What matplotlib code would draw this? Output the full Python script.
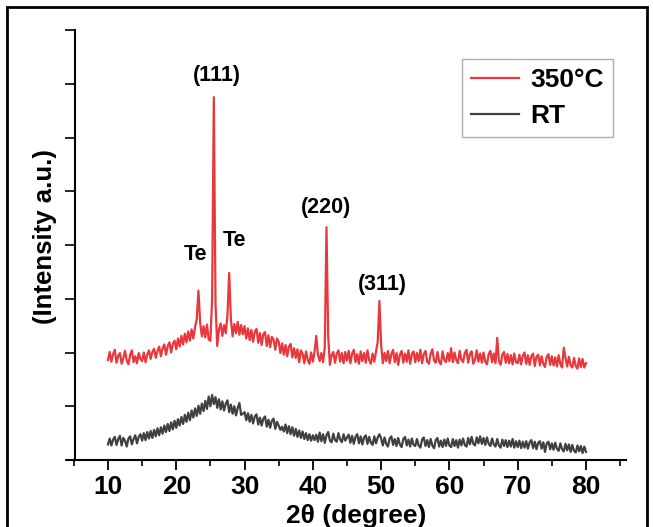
import numpy as np
import matplotlib
matplotlib.use('Agg')
import matplotlib.pyplot as plt
from matplotlib.ticker import MultipleLocator, NullFormatter
from matplotlib.patches import Rectangle

plt.rcParams['font.family'] = ['Liberation Sans', 'DejaVu Sans']
plt.rcParams['font.weight'] = 'bold'

# 2theta grid, 10..80 step 0.25
two_theta = np.arange(10, 80.001, 0.25)

# 350 C sample, intensity (a.u. x100)
t350 = [
    186, 201, 183, 197, 205, 181, 194, 199, 179, 190, 203, 185, 178, 196, 204, 182, 193, 180, 199, 188,
    184, 200, 182, 196, 204, 188, 201, 207, 190, 203, 211, 193, 208, 215, 196, 212, 219, 200, 216, 222,
    206, 226, 211, 231, 215, 235, 219, 239, 222, 243, 226, 247, 262, 315, 256, 230, 249, 228, 252, 224,
    222, 300, 675, 290, 212, 243, 254, 231, 251, 236, 270, 348, 262, 230, 253, 236, 257, 233, 251, 234,
    249, 226, 245, 223, 242, 220, 239, 244, 218, 236, 214, 234, 238, 212, 232, 210, 229, 224, 205, 226,
    220, 199, 217, 196, 214, 193, 211, 216, 191, 208, 190, 206, 182, 204, 198, 180, 202, 186, 179, 200,
    183, 201, 231, 196, 184, 199, 182, 210, 433, 230, 177, 195, 201, 181, 198, 204, 183, 199, 180, 201,
    185, 203, 180, 198, 205, 182, 197, 179, 202, 184, 199, 181, 204, 186, 179, 198, 183, 201, 220, 296,
    215, 180, 199, 184, 203, 180, 197, 205, 182, 199, 177, 196, 203, 181, 198, 183, 204, 179, 197, 202,
    182, 199, 184, 205, 180, 197, 203, 183, 179, 198, 206, 185, 181, 201, 183, 178, 202, 186, 182, 199,
    184, 208, 182, 200, 186, 180, 203, 187, 182, 199, 205, 181, 197, 202, 179, 186, 204, 183, 198, 181,
    200, 183, 178, 197, 203, 182, 198, 180, 227, 184, 177, 196, 201, 181, 197, 180, 195, 178, 198, 182,
    180, 196, 178, 194, 200, 179, 195, 177, 193, 198, 175, 192, 196, 176, 193, 179, 173, 192, 197, 177,
    193, 176, 191, 174, 195, 178, 172, 209, 190, 174, 192, 176, 172, 190, 175, 170, 189, 173, 188, 172,
    180,
]

# RT sample
t_rt = [
    29, 40, 27, 38, 43, 28, 39, 45, 27, 41, 36, 25, 40, 44, 29, 39, 46, 31, 43, 48,
    36, 50, 37, 52, 40, 54, 41, 56, 44, 59, 46, 61, 49, 64, 52, 67, 54, 70, 57, 73,
    60, 76, 64, 80, 67, 84, 71, 88, 74, 92, 79, 96, 82, 101, 86, 105, 91, 110, 95, 118,
    100, 121, 104, 117, 97, 113, 94, 109, 92, 105, 111, 89, 103, 86, 100, 83, 97, 106, 84, 86,
    89, 74, 87, 71, 84, 68, 81, 85, 66, 79, 64, 77, 81, 62, 75, 60, 73, 77, 58, 71,
    64, 56, 62, 53, 66, 50, 63, 48, 61, 45, 58, 43, 55, 41, 53, 39, 50, 37, 48, 36,
    46, 37, 47, 34, 51, 35, 48, 32, 46, 52, 36, 33, 49, 37, 34, 50, 38, 33, 48, 36,
    42, 47, 32, 45, 30, 43, 48, 31, 44, 29, 42, 46, 30, 43, 32, 28, 44, 31, 42, 48,
    40, 27, 42, 30, 25, 40, 44, 28, 39, 26, 41, 29, 24, 39, 43, 27, 38, 25, 40, 28,
    26, 39, 27, 23, 38, 42, 26, 37, 24, 39, 27, 22, 37, 41, 25, 36, 24, 38, 26, 40,
    27, 24, 39, 26, 37, 23, 38, 27, 40, 28, 25, 41, 29, 43, 30, 27, 42, 31, 44, 30,
    41, 28, 42, 30, 26, 40, 29, 25, 39, 27, 23, 38, 26, 37, 24, 36, 25, 39, 23, 35,
    24, 36, 22, 34, 23, 35, 21, 33, 37, 22, 34, 20, 32, 35, 21, 33, 15, 31, 34, 20,
    31, 19, 32, 21, 17, 31, 20, 16, 30, 18, 29, 15, 28, 17, 14, 27, 16, 26, 13, 25,
    15,
]

# peak labels
peak_labels = ['(111)', 'Te', 'Te', '(220)', '(311)']
peak_x = [25.9, 22.75, 28.6, 41.9, 50.25]
peak_y = [7.15, 3.83, 4.09, 4.69, 3.27]

fig = plt.figure(figsize=(6.53, 5.27), dpi=100)
ax = fig.add_axes([67/653, 67/527, 559/653, 430/527])

ax.plot(two_theta, np.array(t350)/100, color='#e8383d', lw=1.6, label='350°C')
ax.plot(two_theta, np.array(t_rt)/100, color='#404040', lw=1.6, label='RT')

for lab, x, y in zip(peak_labels, peak_x, peak_y):
    ax.text(x, y, lab, ha='center', va='center', fontsize=15.5, fontweight='bold')

ax.set_xlim(4.0, 85.86)
ax.set_ylim(0, 8)
ax.spines['left'].set_position(('data', 5.2))
ax.spines['top'].set_visible(False)
ax.spines['right'].set_visible(False)
for s in ['left', 'bottom']:
    ax.spines[s].set_linewidth(1.5)

ax.xaxis.set_major_locator(MultipleLocator(10))
ax.xaxis.set_minor_locator(MultipleLocator(5))
ax.yaxis.set_major_locator(MultipleLocator(1))
ax.yaxis.set_major_formatter(NullFormatter())
ax.set_xticks(range(10, 81, 10))
ax.tick_params(axis='x', which='major', direction='out', length=7, width=1.3, labelsize=19, pad=4)
ax.tick_params(axis='x', which='minor', direction='out', length=4, width=1.2)
ax.tick_params(axis='y', which='major', direction='out', length=7, width=1.2)
for t in ax.get_xticklabels():
    t.set_fontweight('bold')

ax.set_xlabel('2θ (degree)', fontsize=19, fontweight='bold', labelpad=0)
ax.xaxis.set_label_coords((356-67)/559, -0.103)
ax.set_ylabel('(Intensity a.u.)', fontsize=18.5, fontweight='bold')
ax.yaxis.set_label_coords((57-67)/559, (460-237)/430)

leg = ax.legend(loc='upper left', bbox_to_anchor=((462-67)/559, (460-59)/430),
                borderaxespad=0, fancybox=False, edgecolor='#999999',
                prop={'size': 19, 'weight': 'bold'}, handlelength=1.8,
                handletextpad=0.45, borderpad=0.35, labelspacing=0.45)
leg.get_frame().set_linewidth(1.0)

# outer frame of the picture
fig.patches.append(Rectangle((7/653, -0.05), 640/653, 1.05 - 7/527, transform=fig.transFigure,
                             fill=False, edgecolor='black', lw=2))

fig.savefig('out.png', dpi=100)
